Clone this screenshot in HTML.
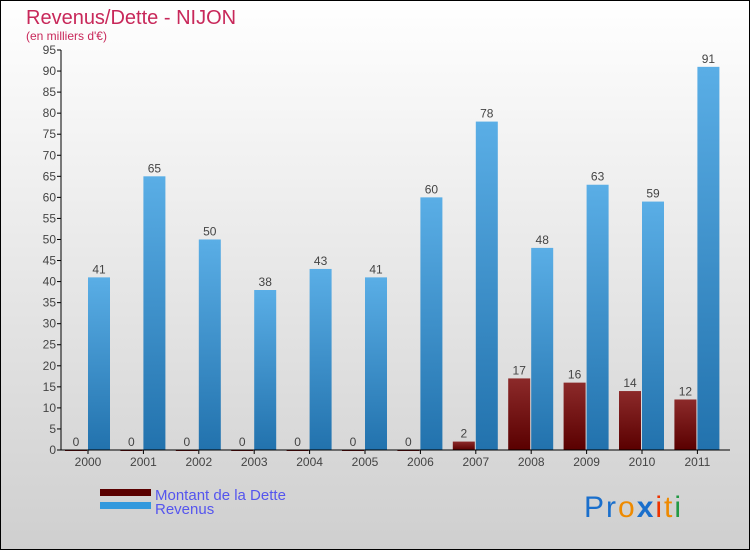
<!DOCTYPE html>
<html><head><meta charset="utf-8"><style>
body{margin:0}
svg{display:block;font-family:"Liberation Sans",sans-serif}
</style></head><body>
<svg width="750" height="550" viewBox="0 0 750 550">
<defs>
<linearGradient id="bg" x1="0" y1="0" x2="0" y2="1"><stop offset="0" stop-color="#ffffff"/><stop offset="1" stop-color="#cfcfcf"/></linearGradient>
<linearGradient id="blue" x1="0" y1="0" x2="0" y2="1"><stop offset="0" stop-color="#5aaee6"/><stop offset="1" stop-color="#2272ad"/></linearGradient>
<linearGradient id="red" x1="0" y1="0" x2="0" y2="1"><stop offset="0" stop-color="#8c2a2a"/><stop offset="1" stop-color="#5a0000"/></linearGradient>
</defs>
<rect x="0.5" y="0.5" width="749" height="549" fill="url(#bg)" stroke="#000"/>
<text x="26" y="24" font-size="20" fill="#c8285a">Revenus/Dette - NIJON</text>
<text x="26" y="40" font-size="12" fill="#c8285a">(en milliers d'€)</text>
<g id="plot"></g>
<g>
<rect x="100" y="489" width="51" height="7" fill="#5a0000"/>
<text x="155" y="500" font-size="15" fill="#5555ee">Montant de la Dette</text>
<rect x="100" y="502" width="51" height="7" fill="#3399dd"/>
<text x="155" y="514" font-size="15" fill="#5555ee">Revenus</text>
</g>
<g font-size="30" font-family="'Liberation Sans',sans-serif">
<text x="584" y="517" letter-spacing="2"><tspan fill="#1a6fcc">Pr</tspan><tspan fill="#ee8a00">o</tspan><tspan fill="#1a6fcc" font-weight="bold">x</tspan><tspan fill="#ee3300">i</tspan><tspan fill="#ee8a00">t</tspan><tspan fill="#229944">i</tspan></text>
</g>
</svg>
<script>
const years=["2000","2001","2002","2003","2004","2005","2006","2007","2008","2009","2010","2011"];
const dette=[0,0,0,0,0,0,0,2,17,16,14,12];
const revenus=[41,65,50,38,43,41,60,78,48,63,59,91];
const yTicks=[0,5,10,15,20,25,30,35,40,45,50,55,60,65,70,75,80,85,90,95];
const NS="http://www.w3.org/2000/svg";
const g=document.getElementById('plot');
const y=v=>450-v*(400/95);
const x=i=>88+i*55.4;
function mk(t,a,txt){const e=document.createElementNS(NS,t);for(const k in a)e.setAttribute(k,a[k]);if(txt!==undefined)e.textContent=txt;g.appendChild(e);return e;}
yTicks.forEach(v=>{
 const l=mk('line',{x1:57,x2:61,y1:y(v),y2:y(v),stroke:'#000'});
 
 
 const t=mk('text',{x:56,y:y(v)+4,'font-size':12,fill:'#444','text-anchor':'end'},v);
 
 
});
years.forEach((yr,i)=>{
 const d=mk('rect',{x:x(i)-23,y:y(dette[i]),width:22,height:Math.max(450-y(dette[i]),1),fill:'url(#red)'});
 
 
 const dl=mk('text',{x:x(i)-12,y:y(dette[i])-4,'font-size':12,fill:'#444','text-anchor':'middle'},dette[i]);
 
 
 const r=mk('rect',{x:x(i),y:y(revenus[i]),width:22,height:450-y(revenus[i]),fill:'url(#blue)'});
 
 
 const rl=mk('text',{x:x(i)+11,y:y(revenus[i])-4,'font-size':12,fill:'#444','text-anchor':'middle'},revenus[i]);
 
 
 const tk=mk('line',{x1:x(i),x2:x(i),y1:450,y2:454,stroke:'#000'});
 
 
 const xl=mk('text',{x:x(i),y:466,'font-size':12,fill:'#444','text-anchor':'middle'},yr);
 
 
});
const ya=mk('line',{x1:61,x2:61,y1:y(95),y2:450,stroke:'#000'});


const xa=mk('line',{x1:61,x2:730,y1:450,y2:450,stroke:'#000'});


</script>
</body></html>
